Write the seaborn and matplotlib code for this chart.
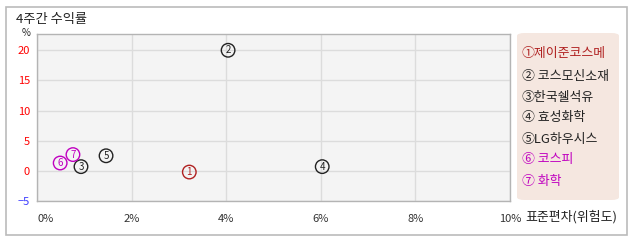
import matplotlib
matplotlib.use("Agg")
import matplotlib.pyplot as plt
import seaborn as sns
import pandas as pd
from matplotlib.patches import FancyBboxPatch, Rectangle

names = ["제이준코스메", "코스모신소재", "한국쉘석유", "효성화학", "LG하우시스", "코스피", "화학"]
marks = ["①", "② ", "③", "④ ", "⑤", "⑥ ", "⑦ "]
risk = [3.22, 4.04, 0.93, 6.03, 1.46, 0.49, 0.76]
ret = [-0.2, 20.0, 0.7, 0.7, 2.5, 1.3, 2.7]
colors = ["#b02020", "#222222", "#222222", "#222222", "#222222", "#c000c0", "#c000c0"]
xticks = [0, 2, 4, 6, 8, 10]
xlabels = ["0%", "2%", "4%", "6%", "8%", "10%"]
xtitle = "표준편차(위험도)"
yticks = [-5, 0, 5, 10, 15, 20]
ylabels = ["−5", "0", "5", "10", "15", "20"]

df = pd.DataFrame({"name": names, "risk": risk, "ret": ret})

sns.set_theme(style="white")
plt.rcParams["font.family"] = ["Noto Sans CJK KR", "DejaVu Sans"]

fig = plt.figure(figsize=(6.38, 2.42), dpi=100)
fig.patches.append(Rectangle((6/638, 1-235/242), 621/638, 228/242, transform=fig.transFigure,
                             fill=False, edgecolor="#bbbbbb", linewidth=1.2))
ax = fig.add_axes([37/638, 41/242, 473/638, 167/242])
ax.set_facecolor("#f4f4f4")
sns.scatterplot(data=df, x="risk", y="ret", hue="name", palette=colors, legend=False,
                s=95, marker="o", linewidth=1.0, ax=ax, zorder=3)
ax.collections[0].set_facecolor("none")
ax.collections[0].set_edgecolor(colors)
for x, y, m, c in zip(risk, ret, range(1, 8), colors):
    ax.text(x, y, str(m), ha="center", va="center", fontsize=7, color=c, zorder=4)

ax.set_xlim(0, 10)
ax.set_ylim(-5, 22.7)
ax.set_xticks(xticks)
ax.set_xticklabels(xlabels)
ax.set_yticks(yticks)
ax.set_yticklabels(ylabels)
ax.grid(True, color="#dcdcdc", linewidth=1.0)
ax.set_axisbelow(True)
for s in ax.spines.values():
    s.set_color("#b4b4b4")
    s.set_linewidth(1.0)
ax.tick_params(axis="both", labelsize=8, length=0, colors="#333333")
for lab, v in zip(ax.get_yticklabels(), yticks):
    lab.set_color("#3a3aff" if v < 0 else "#ff0000")
ax.tick_params(axis="x", pad=9)
ax.tick_params(axis="y", pad=5)
ax.set_xlabel("")
ax.set_ylabel("")
ax.get_xticklabels()[0].set_ha("left")

fig.text(525/638, 1-217/242, xtitle, fontsize=9.3, color="#222222", ha="left", va="center")
fig.text(16/638, 1-19/242, "4주간 수익률", fontsize=9.5, color="#222222", ha="left", va="center")
fig.text(26/638, 1-33/242, "%", fontsize=7, color="#222222", ha="center", va="center")

fig.patches.append(FancyBboxPatch((517/638, 1-200/242), 102/638, 167/242,
                                  boxstyle="round,pad=0,rounding_size=0.012",
                                  transform=fig.transFigure, facecolor="#f5e7e0",
                                  edgecolor="none"))
ys = [54, 76, 97, 118, 139, 160, 182]
for m, n, c, y in zip(marks, names, colors, ys):
    fig.text(522/638, 1-y/242, m + n, fontsize=9.3, color=c, ha="left", va="center")

fig.savefig("out.png", dpi=100)
